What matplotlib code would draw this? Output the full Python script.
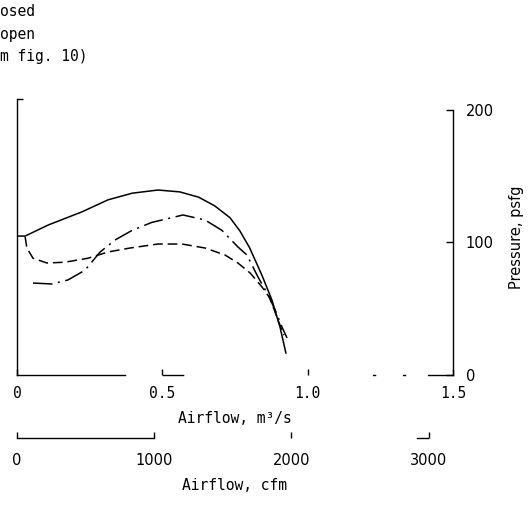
import matplotlib.pyplot as plt

plt.rcParams['lines.scale_dashes'] = False
plt.rcParams['font.family'] = 'DejaVu Sans Mono'

M3S_TO_CFM = 2118.88

# Airflow (m3/s) vs pressure (psfg) for the three fan curves
solid_q = [0.000, 0.028, 0.107, 0.224, 0.313, 0.396, 0.485, 0.560, 0.625, 0.680,
           0.733, 0.767, 0.800, 0.843, 0.877, 0.905, 0.925]
solid_p = [104.7, 104.7, 113, 123, 132, 137, 139.4, 138, 134, 127.5,
           118.5, 108.5, 96, 75, 56.5, 36, 16.6]

dash_q = [0.028, 0.034, 0.055, 0.103, 0.165, 0.244, 0.313, 0.389, 0.485, 0.568,
          0.647, 0.716, 0.760, 0.802, 0.843, 0.870, 0.898, 0.918]
dash_p = [104, 95.7, 88, 84.4, 85, 88, 92.7, 95.7, 98.7, 98.7,
          95.7, 90.4, 84.4, 76.9, 66.3, 58, 41.4, 30]

dashdot_q = [0.055, 0.120, 0.175, 0.234, 0.286, 0.337, 0.396, 0.464, 0.571, 0.647,
             0.705, 0.760, 0.791, 0.829, 0.864, 0.888, 0.912, 0.929]
dashdot_p = [69.3, 68.6, 71.6, 79, 92.7, 101.7, 109, 115, 120.6, 116.8,
             109, 96.5, 90.4, 73.9, 60.3, 49, 36, 27.9]

q_ticks = [0, 0.5, 1.0, 1.5]
q_labels = ['0', '0.5', '1.0', '1.5']
cfm_ticks = [0, 1000, 2000, 3000]
p_ticks = [0, 100, 200]

legend_lines = ['osed', 'open', 'm fig. 10)']

fig = plt.figure(figsize=(5.32, 5.05), dpi=100)
ax = fig.add_axes([17 / 532, 130 / 505, 436 / 532, 276 / 505])
ax.set_xlim(0, 1.5)
ax.set_ylim(0, 208)

lw = 1.1
ax.plot(solid_q, solid_p, color='black', lw=lw)
ax.plot(dash_q, dash_p, color='black', lw=lw, linestyle=(0, (7, 3.5)))
ax.plot(dashdot_q, dashdot_p, color='black', lw=lw, linestyle=(0, (14, 4, 1.5, 4)))

# ejes: el inferior sale cortado en la copia impresa
for s in ('top', 'right'):
    ax.spines[s].set_visible(False)
ax.spines['left'].set_linewidth(1.0)
ax.spines['bottom'].set_linewidth(1.0)
ax.spines['bottom'].set_linestyle((0, (77.8, 27.4, 14.4, 136.8, 1.4, 20.2, 1.4, 16.6, 18, 10)))

ax.set_yticks([208])
ax.tick_params(axis='y', direction='in', length=4, width=1.0, labelleft=False)
ax.set_xticks(q_ticks)
ax.set_xticklabels(q_labels)
ax.tick_params(axis='x', direction='in', length=4, width=1.0, labelsize=10.5, pad=8)
ax.set_xlabel('Airflow, m³/s', fontsize=10.5, labelpad=7)

# escala de presión a la derecha
ax_p = ax.secondary_yaxis('right')
ax_p.spines['right'].set_bounds(0, 200)
ax_p.spines['right'].set_linewidth(1.0)
ax_p.set_yticks(p_ticks)
ax_p.tick_params(direction='in', length=5, width=1.0, pad=9)
for t in ax_p.get_yticklabels():
    t.set_fontfamily('DejaVu Sans')
    t.set_fontsize(10.5)
ax_p.set_ylabel('Pressure, psfg', fontsize=10.5, fontfamily='DejaVu Sans', labelpad=11)

# escala en cfm debajo
ax_c = ax.secondary_xaxis(-0.228, functions=(lambda q: q * M3S_TO_CFM, lambda c: c / M3S_TO_CFM))
ax_c.spines['bottom'].set_bounds(0, 3000)
ax_c.spines['bottom'].set_linewidth(1.0)
ax_c.spines['bottom'].set_linestyle((0, (98.6, 189.4, 7.9, 10)))
ax_c.set_xticks(cfm_ticks)
ax_c.tick_params(direction='in', length=4, width=1.0, pad=11)
for t in ax_c.get_xticklabels():
    t.set_fontfamily('DejaVu Sans')
    t.set_fontsize(10.5)
ax_c.set_xlabel('Airflow, cfm', fontsize=10.5, labelpad=7)

for i, txt in enumerate(legend_lines):
    fig.text(0.0, 1 - (12 + 22 * i) / 505, txt, fontsize=10.5, ha='left', va='center')

fig.savefig('out.png', dpi=100, facecolor='white')
